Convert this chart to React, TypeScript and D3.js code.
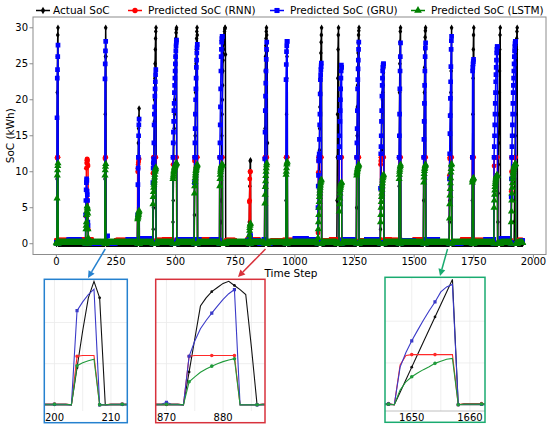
import React, { useEffect, useRef } from 'react';
import * as d3 from 'd3';

const width = 550;
const height = 429;
const nSteps = 1956;

// charging events: first step of each event and per-step values of every series
const eventStart = [2, 122, 203, 340, 404, 488, 578, 684, 808, 873, 962, 1096, 1176, 1258, 1358, 1436, 1539, 1647, 1743, 1834, 1906];

const actualEvents: number[][] = [
  [0, 9, 21, 26, 29, 30, 0],
  [0, 0, 0, 0, 0, 0, 0, 0, 0, 0, 0, 0, 0, 0],
  [0, 9, 18, 26, 30, 26, 0],
  [0, 4, 8, 11, 14, 16, 17.5, 18.8, 0, 0],
  [0, 0, 2, 5, 8, 11, 14, 17, 20, 23, 25, 27, 28.5, 29.5, 30, 0],
  [0, 3, 6, 9, 12, 14, 16, 18, 20, 22, 24, 26, 27.5, 28.5, 29.3, 29.8, 30, 0],
  [0, 4, 8, 12, 15, 18, 21, 23, 25, 27, 28.5, 29.5, 30, 29, 0],
  [0, 0, 0, 0, 0, 0, 3, 6, 9, 12, 15, 18, 20, 22, 24, 25.5, 26.3, 27, 27.8, 28.5, 29, 29.5, 29.8, 30, 30, 26.3, 0, 0],
  [0, 3, 6, 8, 10, 11.5, 11.6, 0],
  [0, 8, 16, 24, 26, 27.5, 28.5, 29.5, 30, 29, 28, 26.8, 14, 0],
  [0, 6, 12, 18, 23, 26, 27.5, 0],
  [0, 0, 0, 2, 4, 7, 10, 13, 16, 19, 21, 23, 25, 26.5, 28, 29, 30, 0],
  [0, 6, 12, 18, 23, 27, 29, 30, 20, 0, 0, 0, 0, 0, 0, 0, 0, 0, 0, 0, 0, 0],
  [0, 5, 10, 15, 19, 22, 24.5, 26.5, 28, 29, 29.6, 30, 0],
  [0, 2, 5, 8, 11, 13, 15, 17, 18.5, 20, 21, 22, 23, 23.8, 24.3, 24.5, 0],
  [0, 8, 15, 21, 25, 28, 29.5, 30, 0],
  [0, 6, 12, 17, 21, 24.5, 27, 28.7, 29.6, 30, 0],
  [0, 3, 6, 9, 12, 15, 18, 21, 24, 27, 30, 0],
  [0, 6, 12, 18, 23, 27, 29, 30, 0],
  [0, 0, 0, 0, 0, 0, 0, 0, 0, 0, 0, 0, 0, 0, 0, 0, 0, 3, 7, 11, 14, 15.4, 18, 21, 24, 27, 29, 30, 0, 0],
  [0, 0, 0, 0, 0, 0, 0, 0, 0, 0, 0, 0, 0, 0, 3, 6, 9, 12, 15, 18, 21, 23, 25, 27, 28.5, 29.5, 30, 0],
];

const rnnEvents: number[][] = [
  [0, 11.9, 12, 12, 12, 12, 0],
  [0, 0.5, 3.8, 4.2, 10.5, 11.2, 11.6, 11.8, 11.7, 11.5, 11, 10.8, 2, 0],
  [0, 11.8, 12, 12, 12, 0, 0],
  [0, 10, 10.5, 11, 11.3, 11.5, 11.7, 11.8, 0, 0],
  [0, 9.8, 11.2, 12, 12, 12, 12, 12, 12, 12, 12, 12, 12, 12, 0, 0],
  [0, 11, 12, 12, 12, 12, 12, 12, 12, 12, 12, 12, 12, 12, 12, 12, 12, 0],
  [0, 11.5, 12, 12, 12, 12, 12, 12, 12, 12, 12, 12, 12, 12, 0],
  [0, 12, 12, 12, 12, 12, 12, 12, 12, 12, 12, 12, 12, 0, 0, 0, 0, 0, 0, 0, 0, 0, 0, 0, 0, 0, 0, 0],
  [0, 5.8, 6, 9, 10, 10, 10, 0],
  [0, 11.8, 12, 12, 12, 12, 12, 12, 12, 12, 0, 0, 0, 0],
  [0, 12, 12, 12, 12, 12, 12, 0],
  [0, 1.5, 9.9, 11.5, 12, 12, 12, 12, 12, 12, 12, 12, 12, 12, 12, 12, 0, 0],
  [0, 0, 0, 0, 0, 0, 0, 0, 0, 0, 12, 12, 12, 12, 12, 12, 12, 12, 12, 12, 12, 0],
  [0, 12, 12, 12, 12, 12, 12, 12, 12, 12, 12, 0, 0],
  [0, 11, 11.5, 12, 12, 12, 12, 12, 12, 12, 12, 12, 12, 12, 12, 0, 0],
  [0, 12, 12, 12, 12, 12, 12, 12, 0],
  [0, 12, 12, 12, 12, 12, 12, 12, 12, 12, 0],
  [0, 9.5, 11.8, 12, 12, 12, 12, 12, 12, 12, 12, 0],
  [0, 12, 12, 12, 12, 12, 12, 0, 0],
  [0, 10.8, 12, 12, 12, 12, 12, 12, 12, 12, 12, 12, 12, 12, 12, 12, 0, 0, 0, 0, 0, 0, 0, 0, 0, 0, 0, 0, 0, 0],
  [0, 7.3, 10, 12, 12, 12, 12, 12, 12, 12, 12, 12, 12, 12, 12, 12, 12, 12, 12, 12, 0, 0, 0, 0, 0, 0, 0, 0],
];

const gruEvents: number[][] = [
  [0, 17.5, 23, 24.2, 26, 27.6, 0],
  [0, 4, 6, 7.5, 8.5, 9, 8.8, 7.3, 6.8, 6, 3, 2.5, 0.5, 0],
  [0, 22.9, 25, 26.8, 28.1, 0, 0],
  [0, 4, 8.2, 10.5, 12, 15, 16.5, 17.3, 0, 0],
  [0, 8.5, 10.5, 11.2, 11.8, 14, 16.5, 18, 19, 20.5, 21.5, 22.5, 23.5, 24.2, 0, 0],
  [0, 12, 14, 15.5, 17, 18.5, 19.5, 21, 22, 23, 24, 25, 26, 26.8, 27.5, 28, 28.3, 0],
  [0, 8.5, 12, 14, 16, 18, 20, 21.5, 23, 24.5, 25.5, 26.5, 27.2, 27.7, 0],
  [0, 12, 14, 16.5, 19, 21.5, 24, 26, 27, 28, 28.5, 28.8, 28.8, 0, 0, 0, 0, 0, 0, 0, 0, 0, 0, 0, 0, 0, 0, 0],
  [0, 0.6, 0.8, 1, 1.2, 1.2, 1, 0],
  [0, 11.8, 15.5, 18.5, 20.5, 22.3, 24, 25.6, 27, 28, 0, 0, 0, 0],
  [0, 22.8, 24.9, 26.7, 27.5, 28.1, 28.1, 0],
  [0, 5, 8, 9.5, 11.5, 12, 12.5, 14.5, 16.5, 18, 20.8, 22.8, 23.5, 24.2, 24.6, 25.1, 0, 0],
  [0, 0, 0, 0, 0, 0, 0, 0, 0, 0, 12, 13.5, 15, 17, 18.5, 20, 21.5, 23, 24, 24.8, 24.5, 0],
  [0, 12, 14, 16, 18.5, 21.5, 22.8, 24.3, 25.5, 27, 28, 0, 0],
  [0, 7.7, 12.5, 13.5, 15, 17, 18.5, 20.5, 22, 23, 24, 24.5, 24.8, 25, 25, 0, 0],
  [0, 12, 15, 18, 21.5, 24, 26, 27.9, 0],
  [0, 12, 14.5, 17, 19.5, 22, 24, 26, 27.2, 27.9, 0],
  [0, 9, 12.5, 15.3, 17.8, 20.2, 22.5, 24.6, 27, 28.2, 28.8, 0],
  [0, 12, 24, 24.5, 25, 25.3, 25.6, 0, 0],
  [0, 12, 13.5, 15, 16.5, 18, 19.5, 21, 22.5, 23.5, 24.5, 25.5, 26.5, 27, 27.4, 27.4, 0, 0, 0, 0, 0, 0, 0, 0, 0, 0, 0, 0, 0, 0],
  [0, 6.5, 9, 12, 13.5, 15, 16.5, 18, 19.5, 21, 22, 23, 24, 25, 26, 26.8, 27.4, 27.8, 28.1, 28.1, 0, 0, 0, 0, 0, 0, 0, 0],
];

const lstmEvents: number[][] = [
  [0, 6.3, 9.5, 10.2, 10.8, 11.2, 0],
  [0, 0.3, 2, 2.5, 3, 4, 4.5, 5.2, 5, 4.8, 4.2, 2, 0.8, 0],
  [0, 9.5, 10.2, 10.7, 11.1, 0, 0],
  [0, 3.4, 3.6, 3.8, 4, 4.2, 4.4, 4.6, 0, 0],
  [0, 5.5, 6.5, 7.2, 7.8, 8.2, 8.5, 8.8, 9.2, 9.6, 10, 10.2, 10.4, 10.6, 0, 0],
  [0, 9, 9.3, 9.6, 9.9, 10.1, 10.3, 10.5, 10.6, 10.7, 10.8, 10.9, 11, 11, 11.1, 11.2, 11.2, 0],
  [0, 7, 8, 8.6, 9.1, 9.5, 9.8, 10.1, 10.3, 10.5, 10.7, 10.8, 10.9, 11, 0],
  [0, 8, 9, 9.6, 10, 10.3, 10.5, 10.7, 10.8, 10.9, 11, 11, 11, 0, 0, 0, 0, 0, 0, 0, 0, 0, 0, 0, 0, 0, 0, 0],
  [0, 1.2, 1.8, 2.2, 2.5, 2.7, 2.8, 0],
  [0, 5.6, 6.8, 7.9, 8.7, 9.4, 10, 10.5, 10.9, 11.2, 0, 0, 0, 0],
  [0, 9.6, 10, 10.5, 11, 11.2, 11.4, 0],
  [0, 0.8, 2, 3, 4, 5, 5.8, 6.5, 7, 7.4, 7.8, 8.1, 8.4, 8.6, 8.8, 8.9, 0, 0],
  [0, 0, 0, 0, 0, 0, 0, 0, 0, 0, 4.5, 5.5, 6.3, 7, 7.5, 7.8, 8, 8.2, 8.4, 8.5, 8.5, 0],
  [0, 9.5, 9.8, 10, 10.2, 10.4, 10.6, 10.7, 10.8, 10.9, 11, 0, 0],
  [0, 3, 4, 5, 5.8, 6.5, 7, 7.5, 8, 8.4, 8.8, 9.1, 9.3, 9.5, 9.6, 0, 0],
  [0, 9, 9.6, 10, 10.3, 10.6, 10.8, 11, 0],
  [0, 8.5, 9.2, 9.7, 10.1, 10.4, 10.6, 10.8, 10.9, 11, 0],
  [0, 3.5, 5.5, 6.7, 7.6, 8.4, 9.1, 9.9, 10.4, 10.9, 11.1, 0],
  [0, 8.5, 8.8, 8.9, 9, 9.1, 9.1, 0, 0],
  [0, 5, 6, 6.8, 7.4, 7.9, 8.3, 8.6, 8.9, 9.1, 9.3, 9.4, 9.5, 9.5, 9.5, 9.5, 0, 0, 0, 0, 0, 0, 0, 0, 0, 0, 0, 0, 0, 0],
  [0, 3, 4.5, 6, 7, 7.8, 8.4, 9, 9.4, 9.8, 10, 10.3, 10.5, 10.7, 10.8, 10.9, 11, 11, 11.1, 11.1, 0, 0, 0, 0, 0, 0, 0, 0],
];

// idle level of the predictions, one value per 50 time steps
const rnnBaseline = [0.5, 0.4, 0.6, 0.2, 0.2, 0.5, 0.6, 0.4, 0.5, 0.6, 0.5, 0.4, 0.6, 0.5, 0.5, 0.3, 0.6, 0.2, 0.4, 0.5, 0.6, 0.5, 0.4, 0.6, 0.5, 0.4, 0.5, 0.6, 0.5, 0.4, 0.6, 0.5, 0.3, 0.3, 0.6, 0.5, 0.4, 0.6, 0.5, 0.5];
const gruBaseline = [0.2, 0.5, 0.2, 0.1, 0.1, 0.2, 0.6, 0.7, 0.2, 0.2, 0.5, 0.6, 0.2, 0.5, 0.2, 0.2, 0.4, 0.1, 0.2, 0.2, 0.7, 0.6, 0.2, 0.2, 0.5, 0.2, 0.6, 0.2, 0.2, 0.4, 0.2, 0.6, 0.2, 0.1, 0.2, 0.2, 0.6, 0.7, 0.2, 0.4];
const lstmBaseline = 0.15;
const gruBlipStep = [215, 870];
const gruBlipValue = [1.1, 0.6];

const xTicks = [0, 250, 500, 750, 1000, 1250, 1500, 1750, 2000];
const yTicks = [0, 5, 10, 15, 20, 25, 30];

const seriesNames = ['Actual SoC', 'Predicted SoC (RNN)', 'Predicted SoC (GRU)', 'Predicted SoC (LSTM)'];
const seriesColors = ['#000000', '#ff0000', '#0000ff', '#008000'];
const insetLineColors = ['#111111', '#ff2a2a', '#3a3ac8', '#1f9a3a'];
const symbols = [d3.symbolDiamond, d3.symbolCircle, d3.symbolSquare, d3.symbolTriangle];
const markerSizes = [12, 18, 22, 22];

const insetDomains = [[198.2, 212.9], [868.1, 887.4], [1645.4, 1662.6]];
const insetTicks = [[200, 210], [870, 880], [1650, 1660]];
const insetGrid = [[200, 205, 210], [870, 875, 880, 885], [1650, 1655, 1660]];
const insetMarkFrom = [200, 870, 1646];
const insetSource = [205, 877, 1640];
const insetColors = ['#2581cf', '#d8323c', '#1aab70'];

function buildSeries(): number[][] {
  const actual: number[] = [];
  const rnn: number[] = [];
  const gru: number[] = [];
  const lstm: number[] = [];
  for (let t = 0; t < nSteps; t++) {
    actual.push(0);
    rnn.push(rnnBaseline[Math.floor(t / 50)]);
    gru.push(gruBaseline[Math.floor(t / 50)]);
    lstm.push(lstmBaseline);
  }
  gruBlipStep.forEach((t, i) => (gru[t] = gruBlipValue[i]));
  eventStart.forEach((s, i) => {
    actualEvents[i].forEach((v, j) => (actual[s + j] = v));
    rnnEvents[i].forEach((v, j) => (rnn[s + j] = v));
    gruEvents[i].forEach((v, j) => (gru[s + j] = v));
    lstmEvents[i].forEach((v, j) => (lstm[s + j] = v));
  });
  return [actual, rnn, gru, lstm];
}

const App: React.FC = () => {
  const ref = useRef<SVGSVGElement>(null);

  useEffect(() => {
    const series = buildSeries();
    const font = 'DejaVu Sans, sans-serif';
    const marginLeft = 33;
    const marginRight = 546;
    const marginTop = 17;
    const plotBottom = 254.5;

    const svg = d3.select(ref.current);
    svg.selectAll('*').remove();

    const x = d3.scaleLinear().domain([-97.75, 2052.75]).range([marginLeft, marginRight]);
    const y = d3.scaleLinear().domain([-1.5, 31.5]).range([plotBottom, marginTop]);

    const defs = svg.append('defs');
    defs
      .append('clipPath')
      .attr('id', 'main-clip')
      .append('rect')
      .attr('x', marginLeft)
      .attr('y', marginTop)
      .attr('width', marginRight - marginLeft)
      .attr('height', plotBottom - marginTop);

    const plot = svg.append('g').attr('clip-path', 'url(#main-clip)');
    const steps = d3.range(nSteps);

    series.forEach((values, k) => {
      const line = d3
        .line<number>()
        .x((t) => x(t))
        .y((t) => y(values[t]));
      plot
        .append('path')
        .attr('d', line(steps)!)
        .attr('fill', 'none')
        .attr('stroke', seriesColors[k])
        .attr('stroke-width', 1.5)
        .attr('stroke-linejoin', 'round');
      const sym = d3.symbol().type(symbols[k]).size(markerSizes[k])()!;
      plot
        .append('g')
        .selectAll('path')
        .data(steps)
        .join('path')
        .attr('d', sym)
        .attr('transform', (t) => `translate(${x(t)},${y(values[t])})`)
        .attr('fill', seriesColors[k]);
    });

    // frame
    svg
      .append('rect')
      .attr('x', marginLeft)
      .attr('y', marginTop)
      .attr('width', marginRight - marginLeft)
      .attr('height', plotBottom - marginTop)
      .attr('fill', 'none')
      .attr('stroke', '#8c8c8c')
      .attr('stroke-width', 1);

    // axes
    const xAxis = svg.append('g');
    xTicks.forEach((t) => {
      xAxis
        .append('line')
        .attr('x1', x(t))
        .attr('x2', x(t))
        .attr('y1', plotBottom)
        .attr('y2', plotBottom + 3.5)
        .attr('stroke', '#8c8c8c');
      xAxis
        .append('text')
        .attr('x', x(t))
        .attr('y', 265)
        .attr('text-anchor', 'middle')
        .attr('font-family', font)
        .attr('font-size', 10)
        .text(t);
    });
    const yAxis = svg.append('g');
    yTicks.forEach((v) => {
      yAxis
        .append('line')
        .attr('x1', marginLeft - 3.5)
        .attr('x2', marginLeft)
        .attr('y1', y(v))
        .attr('y2', y(v))
        .attr('stroke', '#8c8c8c');
      yAxis
        .append('text')
        .attr('x', marginLeft - 5)
        .attr('y', y(v) + 3.6)
        .attr('text-anchor', 'end')
        .attr('font-family', font)
        .attr('font-size', 10)
        .text(v);
    });
    svg
      .append('text')
      .attr('x', 291)
      .attr('y', 277)
      .attr('text-anchor', 'middle')
      .attr('font-family', font)
      .attr('font-size', 10.5)
      .text('Time Step');
    svg
      .append('text')
      .attr('transform', `translate(14,${(marginTop + plotBottom) / 2}) rotate(-90)`)
      .attr('text-anchor', 'middle')
      .attr('font-family', font)
      .attr('font-size', 10.5)
      .text('SoC (kWh)');

    // legend
    const legendX = [36, 128, 270, 411];
    const legend = svg.append('g');
    seriesNames.forEach((name, k) => {
      legend
        .append('line')
        .attr('x1', legendX[k])
        .attr('x2', legendX[k] + 14)
        .attr('y1', 10.5)
        .attr('y2', 10.5)
        .attr('stroke', seriesColors[k])
        .attr('stroke-width', 1.5);
      legend
        .append('path')
        .attr('d', d3.symbol().type(symbols[k]).size(markerSizes[k] + 4)()!)
        .attr('transform', `translate(${legendX[k] + 7},10.5)`)
        .attr('fill', seriesColors[k]);
      legend
        .append('text')
        .attr('x', legendX[k] + (k === 0 ? 17 : 20))
        .attr('y', 14.3)
        .attr('font-family', font)
        .attr('font-size', 10.5)
        .text(name);
    });

    // zoomed insets
    const boxes = [
      { x: 44.3, y: 279.3, w: 83, h: 143.4, tip: [88, 278] },
      { x: 155.7, y: 279.3, w: 109.3, h: 143.4, tip: [238, 277] },
      { x: 385, y: 277.3, w: 100, h: 145, tip: [440, 276] },
    ];
    boxes.forEach((box, i) => {
      const ix = d3.scaleLinear().domain(insetDomains[i]).range([box.x, box.x + box.w]);
      const iy = d3.scaleLinear().domain([-1.5, 30.5]).range([411, box.y]);
      const clipId = `inset-clip-${i}`;
      defs
        .append('clipPath')
        .attr('id', clipId)
        .append('rect')
        .attr('x', box.x)
        .attr('y', box.y)
        .attr('width', box.w)
        .attr('height', box.h);
      const g = svg.append('g').attr('clip-path', `url(#${clipId})`);
      g.append('rect')
        .attr('x', box.x)
        .attr('y', box.y)
        .attr('width', box.w)
        .attr('height', box.h)
        .attr('fill', '#fff');
      insetGrid[i].forEach((t) => {
        g.append('line')
          .attr('x1', ix(t))
          .attr('x2', ix(t))
          .attr('y1', box.y)
          .attr('y2', 411)
          .attr('stroke', '#ebebeb')
          .attr('stroke-width', 0.8);
      });
      [10, 20].forEach((v) => {
        g.append('line')
          .attr('x1', box.x)
          .attr('x2', box.x + box.w)
          .attr('y1', iy(v))
          .attr('y2', iy(v))
          .attr('stroke', '#ebebeb')
          .attr('stroke-width', 0.8);
      });
      if (i === 2) {
        g.append('line')
          .attr('x1', box.x)
          .attr('x2', box.x + box.w)
          .attr('y1', 411)
          .attr('y2', 411)
          .attr('stroke', '#b0b0b0')
          .attr('stroke-width', 0.8);
      }
      const lo = Math.floor(insetDomains[i][0]) - 1;
      const hi = Math.ceil(insetDomains[i][1]) + 1;
      const local = d3.range(lo, hi + 1);
      const marks = local.filter((t) => (t - insetMarkFrom[i]) % 4 === 0);
      series.forEach((values, k) => {
        const line = d3
          .line<number>()
          .x((t) => ix(t))
          .y((t) => iy(values[t]));
        g.append('path')
          .attr('d', line(local)!)
          .attr('fill', 'none')
          .attr('stroke', insetLineColors[k])
          .attr('stroke-width', 1.1);
        const sym = d3.symbol().type(k === 2 ? d3.symbolSquare : d3.symbolCircle).size(k === 0 ? 6 : 10)()!;
        g.append('g')
          .selectAll('path')
          .data(marks)
          .join('path')
          .attr('d', sym)
          .attr('transform', (t) => `translate(${ix(t)},${iy(values[t])})`)
          .attr('fill', insetLineColors[k]);
      });
      insetTicks[i].forEach((t) => {
        svg
          .append('text')
          .attr('x', ix(t))
          .attr('y', 421)
          .attr('text-anchor', 'middle')
          .attr('font-family', font)
          .attr('font-size', 10)
          .text(t);
      });
      svg
        .append('rect')
        .attr('x', box.x)
        .attr('y', box.y)
        .attr('width', box.w)
        .attr('height', box.h)
        .attr('fill', 'none')
        .attr('stroke', insetColors[i])
        .attr('stroke-width', 1.5);

      // arrow from the spike down to its inset
      const x0 = x(insetSource[i]);
      const y0 = 249;
      const [x1, y1] = box.tip;
      const ang = Math.atan2(y1 - y0, x1 - x0);
      const headLen = 7;
      const bx = x1 - headLen * Math.cos(ang);
      const by = y1 - headLen * Math.sin(ang);
      svg
        .append('line')
        .attr('x1', x0)
        .attr('y1', y0)
        .attr('x2', bx)
        .attr('y2', by)
        .attr('stroke', insetColors[i])
        .attr('stroke-width', 1.5);
      const px = -Math.sin(ang) * 3.5;
      const py = Math.cos(ang) * 3.5;
      svg
        .append('polygon')
        .attr('points', `${x1},${y1} ${bx + px},${by + py} ${bx - px},${by - py}`)
        .attr('fill', insetColors[i]);
    });

    return () => {
      svg.selectAll('*').remove();
    };
  }, []);

  return (
    <svg
      ref={ref}
      width={width}
      height={height}
      style={{ position: 'absolute', left: 0, top: 0, background: '#fff' }}
    ></svg>
  );
};

export default App;
